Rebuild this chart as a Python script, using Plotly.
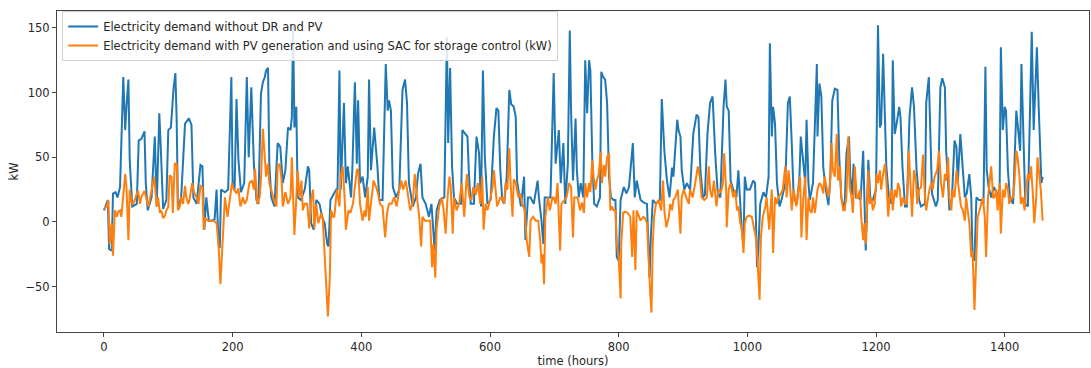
import plotly.graph_objects as go

# ---- data (hour, kW) ----
blue_hours = [0,6,8,12,14,18,21,25,30,33,35,38,40,44,51,54,58,63,65,68,74,79,82,86,88,92,97,100,104,108,111,113,115,120,126,132,136,139,144,150,153,156,159,163,167,172,175,178,180,182,188,193,198,200,203,206,209,213,218,222,225,229,233,237,240,244,247,250,252,255,257,260,265,270,274,278,282,286,290,292,294,296,299,301,306,312,317,319,322,326,330,335,339,343,347,349,352,357,361,363,366,368,373,376,379,384,386,390,393,395,398,402,406,410,412,415,418,420,423,425,428,433,438,441,443,446,449,454,459,464,468,471,474,480,485,488,492,495,500,505,509,512,514,517,522,529,533,535,538,541,544,549,555,557,561,565,567,570,575,579,583,586,589,592,596,601,606,610,613,616,619,622,626,630,633,637,640,642,648,653,655,659,663,668,674,676,680,683,685,689,694,699,702,707,710,714,717,721,724,726,729,733,735,738,741,745,748,751,754,756,759,762,766,771,773,776,779,782,785,788,792,795,797,800,803,808,812,816,819,822,825,828,834,839,844,848,850,853,858,864,867,871,875,879,883,885,891,893,896,898,902,906,911,916,921,924,927,931,934,938,942,946,950,954,958,963,966,968,971,974,978,983,986,989,991,994,996,999,1004,1009,1012,1015,1017,1020,1025,1029,1033,1035,1038,1040,1043,1046,1050,1053,1059,1063,1066,1069,1072,1077,1081,1083,1086,1090,1092,1095,1097,1102,1108,1109,1112,1115,1118,1122,1126,1129,1132,1136,1140,1143,1146,1151,1154,1158,1160,1163,1165,1169,1172,1176,1180,1182,1184,1186,1188,1191,1195,1200,1203,1206,1208,1211,1214,1216,1220,1224,1226,1229,1232,1236,1238,1241,1245,1248,1252,1256,1259,1263,1267,1270,1276,1278,1282,1284,1287,1293,1296,1300,1303,1307,1309,1312,1314,1318,1322,1325,1327,1331,1334,1338,1341,1345,1348,1350,1353,1356,1360,1363,1367,1370,1372,1375,1379,1383,1387,1392,1394,1397,1400,1402,1405,1408,1413,1418,1420,1424,1426,1429,1432,1436,1439,1442,1445,1448,1450,1453,1455,1457,1459]
blue_kw = [9,17,-21,-22,22,23,19,27,112,71,89,110,48,12,14,63,64,70,30,9,19,66,12,84,61,10,17,71,73,102,115,79,10,19,76,80,75,19,14,44,43,-6,19,1,1,2,25,-17,-20,25,23,25,112,30,25,95,48,23,30,112,50,104,45,17,14,99,108,112,117,119,45,19,12,61,58,30,40,73,71,81,152,73,89,19,17,25,43,40,-1,-6,17,14,4,-1,-17,-19,17,21,25,25,117,25,92,30,43,19,40,108,45,94,30,35,19,35,110,40,58,73,55,43,17,17,122,86,94,86,27,19,25,102,110,92,30,12,19,37,45,19,14,4,14,-4,-22,9,17,19,143,61,119,43,19,14,14,71,68,66,40,14,14,66,53,12,117,50,14,17,66,88,86,40,17,14,35,102,91,89,81,32,12,35,-14,19,19,14,32,19,1,-17,19,19,19,115,45,71,30,61,14,45,148,86,32,80,40,19,30,19,125,84,125,117,48,14,12,19,116,112,110,92,35,19,17,17,-27,-30,17,27,22,27,48,61,19,32,17,15,14,-43,-11,17,14,17,95,55,32,19,42,35,79,71,66,40,25,30,25,68,83,81,40,19,21,68,92,97,53,22,19,89,110,89,86,32,25,19,40,9,-4,-17,35,25,25,32,30,-35,-22,14,23,19,35,138,66,89,76,30,12,17,30,92,97,61,19,14,35,66,50,30,79,30,17,30,122,66,107,97,42,25,13,35,94,103,102,48,19,9,53,66,35,21,45,19,19,17,55,19,-22,9,48,19,17,25,152,73,76,130,79,43,19,14,125,68,76,89,81,43,12,12,81,104,89,40,17,12,14,92,112,79,22,12,17,104,111,104,55,30,9,19,63,58,30,68,50,19,22,37,19,-27,-30,19,17,17,14,120,40,27,19,27,23,19,135,71,89,86,40,19,14,86,76,55,122,55,14,12,73,147,71,112,135,86,61,30,35]

orange_hours = [0,4,7,9,12,14,17,20,22,25,27,30,33,35,38,40,43,45,48,51,53,56,58,63,66,69,73,78,82,84,87,89,92,95,97,100,102,105,107,110,113,115,118,120,123,126,128,131,133,137,140,144,147,150,153,155,157,162,167,171,175,178,181,184,185,188,192,195,199,202,206,209,212,216,219,222,226,230,233,235,238,242,244,247,250,252,255,257,260,264,268,270,273,276,278,282,286,290,292,294,296,299,301,304,307,309,312,316,319,322,325,327,330,333,338,340,344,348,351,353,356,358,362,366,368,371,374,376,380,383,387,390,393,395,398,402,405,407,410,412,415,419,423,426,429,433,437,440,443,447,451,455,459,462,465,469,473,476,480,483,487,490,493,495,499,503,507,510,512,515,517,521,525,528,531,534,537,539,542,544,548,552,556,560,564,568,571,574,578,581,585,588,590,593,596,600,604,606,609,611,616,619,622,624,627,630,632,635,637,640,644,647,650,654,657,661,663,667,671,675,678,680,682,684,686,690,693,697,699,702,705,709,711,715,719,723,726,729,731,736,740,743,746,748,751,754,756,759,761,764,766,769,772,774,777,779,782,785,787,790,792,795,797,800,803,804,807,810,814,818,821,823,826,828,831,834,838,841,844,847,849,851,853,855,858,862,866,869,871,874,878,880,883,885,888,892,896,898,901,905,909,911,915,919,923,926,929,933,937,940,942,945,948,952,955,959,962,964,967,968,971,974,978,981,984,986,989,991,994,996,999,1003,1007,1010,1014,1016,1019,1021,1024,1028,1030,1034,1036,1038,1040,1043,1046,1048,1051,1055,1059,1061,1064,1066,1069,1072,1076,1079,1082,1084,1087,1090,1092,1095,1097,1100,1102,1105,1109,1112,1115,1118,1120,1123,1126,1128,1131,1133,1136,1139,1141,1144,1146,1149,1151,1154,1157,1159,1162,1164,1167,1170,1172,1175,1177,1180,1182,1184,1186,1188,1190,1193,1195,1198,1201,1203,1206,1208,1211,1214,1216,1219,1221,1224,1226,1229,1232,1234,1237,1239,1242,1245,1248,1251,1253,1256,1259,1262,1264,1267,1270,1273,1276,1278,1281,1283,1286,1288,1291,1295,1298,1301,1304,1307,1309,1312,1314,1317,1319,1322,1325,1327,1330,1332,1335,1338,1340,1343,1345,1348,1350,1353,1356,1358,1361,1363,1366,1369,1371,1374,1376,1379,1382,1384,1387,1389,1392,1394,1397,1400,1402,1405,1407,1410,1413,1415,1418,1420,1423,1425,1428,1431,1433,1436,1438,1441,1444,1446,1449,1451,1454,1456,1459]
orange_kw = [10,12,17,-17,-1,-26,9,4,8,9,4,19,37,27,-14,25,15,14,17,22,24,14,19,24,17,12,22,35,12,19,7,9,3,5,9,12,36,35,7,45,45,9,12,19,14,28,19,14,17,30,23,19,14,28,27,-6,3,1,1,1,-1,-17,-48,-17,-1,19,4,14,30,25,22,26,12,19,14,17,30,32,25,41,14,19,33,72,46,35,45,30,25,17,12,43,45,33,12,23,14,19,50,14,-10,19,40,19,32,9,14,14,-5,17,25,-5,14,-1,7,3,-32,-73,-43,9,4,4,25,12,35,43,19,-6,9,7,14,27,40,41,14,1,9,4,27,1,17,32,27,22,14,12,-12,7,14,14,19,12,25,32,25,32,19,9,15,37,17,4,-19,4,1,1,1,-35,-17,-43,-6,12,19,9,-9,19,35,27,-9,19,9,14,30,4,37,19,17,27,21,30,14,35,-6,14,9,17,27,40,19,12,19,19,14,30,25,57,30,4,33,30,19,22,14,9,-14,-27,1,4,1,1,-14,-32,-25,-48,4,19,9,19,19,14,30,-22,14,17,19,30,27,-12,19,19,9,15,7,30,19,30,23,48,35,25,32,37,54,30,44,35,50,53,9,12,9,9,-17,-27,-59,-17,7,8,7,4,-27,9,-37,9,4,1,4,3,-1,-37,-55,-70,-17,4,14,17,9,32,9,-4,4,14,9,17,19,25,-9,19,25,19,14,25,19,30,43,35,19,17,19,43,25,19,32,12,25,23,30,53,25,-4,25,30,19,25,9,12,-1,-4,-24,-1,4,5,4,-4,-14,-32,-60,-12,4,12,19,-6,14,25,-24,19,14,19,21,25,43,19,40,30,9,25,12,25,35,-12,19,35,-14,19,9,7,19,7,25,30,28,22,35,27,19,25,61,40,35,68,32,43,19,9,9,19,66,27,19,7,43,19,19,25,4,-14,-1,-17,19,40,14,19,9,14,37,30,40,25,37,45,32,4,19,25,9,25,19,30,25,12,19,14,14,55,35,4,40,32,14,25,27,52,19,9,19,25,30,25,35,40,55,30,19,37,32,50,19,9,25,19,40,32,19,12,9,1,19,9,-1,-27,-22,-68,-22,4,9,14,19,4,-27,19,30,43,19,19,25,9,30,-9,25,19,30,25,14,19,19,30,55,50,35,14,19,9,25,37,32,43,19,-1,19,50,35,25,1]

x_ticks = [0, 200, 400, 600, 800, 1000, 1200, 1400]
y_ticks = [-50, 0, 50, 100, 150]

name_blue = "Electricity demand without DR and PV"
name_orange = "Electricity demand with PV generation and using SAC for storage control (kW)"

FONT = "DejaVu Sans"
TXT = "#262626"

fig = go.Figure()
fig.add_trace(go.Scatter(x=blue_hours, y=blue_kw, mode="lines", name=name_blue,
                         line=dict(color="#1f77b4", width=2)))
fig.add_trace(go.Scatter(x=orange_hours, y=orange_kw, mode="lines", name=name_orange,
                         line=dict(color="#ff7f0e", width=2)))

axis_common = dict(showgrid=False, zeroline=False, showline=True, linecolor="#444",
                   linewidth=1, mirror=True, ticks="outside", ticklen=4,
                   tickcolor="#444", tickfont=dict(family=FONT, size=11.5, color=TXT))

fig.update_layout(
    width=1091, height=368,
    margin=dict(l=57, r=2, t=11, b=36),
    paper_bgcolor="white", plot_bgcolor="white",
    font=dict(family=FONT, size=11.5, color=TXT),
    xaxis=dict(range=[-73, 1531], tickvals=x_ticks, automargin=False,
               title=dict(text="time (hours)", standoff=4,
                          font=dict(family=FONT, size=11.5, color=TXT)),
               **axis_common),
    yaxis=dict(range=[-85, 163], tickvals=y_ticks, automargin=False,
               title=dict(text="kW", standoff=4,
                          font=dict(family=FONT, size=11.5, color=TXT)),
               **axis_common),
    legend=dict(x=0.005, y=1.0, xanchor="left", yanchor="top",
                bgcolor="rgba(255,255,255,0.85)", bordercolor="#d0d0d0", borderwidth=1,
                font=dict(family=FONT, size=11.5, color=TXT),
                itemwidth=30, tracegroupgap=0),
    showlegend=True,
)

fig.write_html("out.html", config={"displayModeBar": False},
               post_script="document.body.style.margin='0';document.body.style.padding='0';")
